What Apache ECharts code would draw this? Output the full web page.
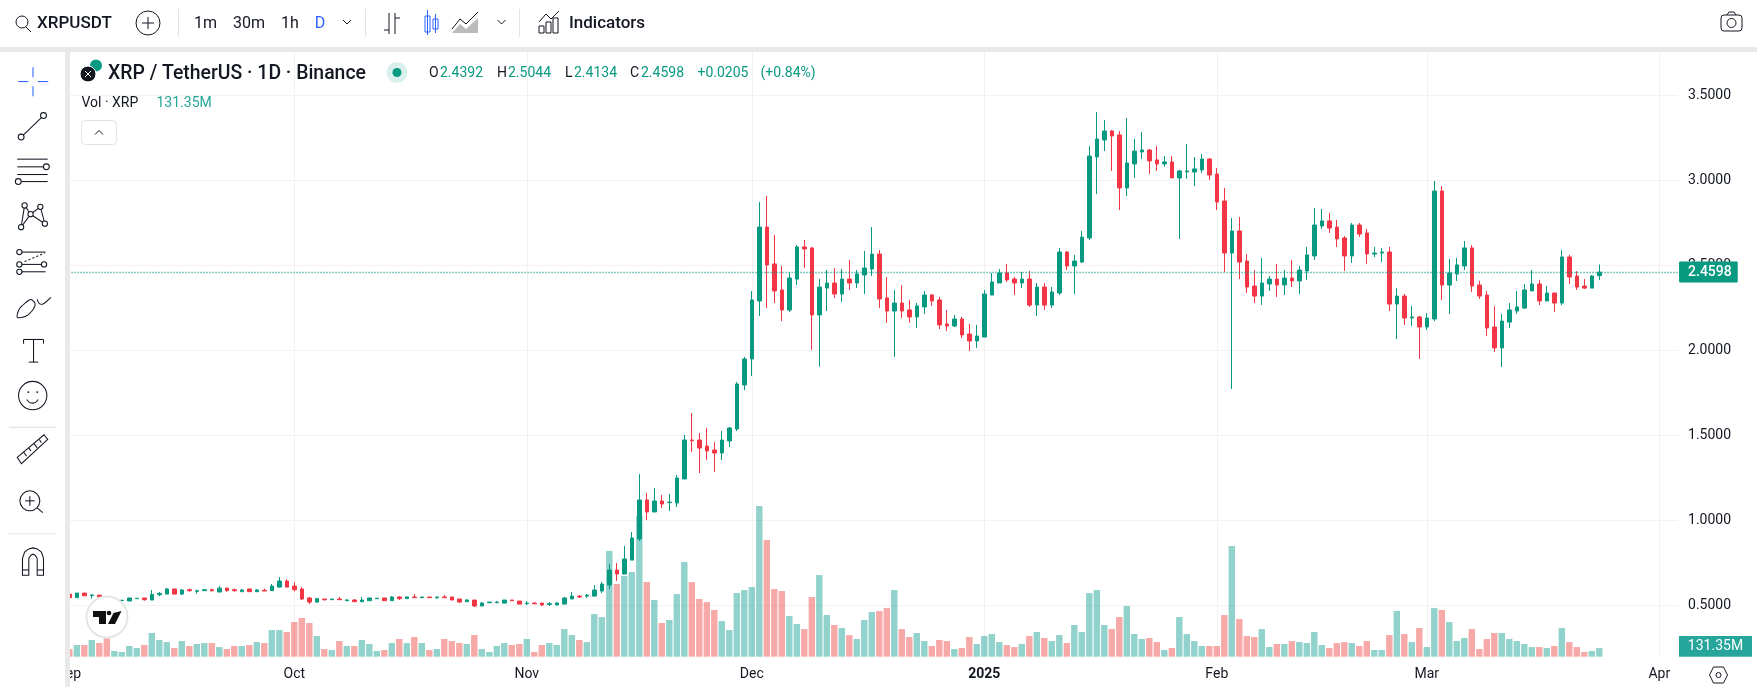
<!DOCTYPE html>
<html>
<head>
<meta charset="utf-8">
<title>XRPUSDT</title>
<style>
html, body { margin: 0; padding: 0; background: #fff; }
#main { width: 1757px; height: 687px; }
</style>
<script src="https://cdn.jsdelivr.net/npm/echarts@6/dist/echarts.min.js"></script>
</head>
<body>
<div id="main"></div>
<script>
// daily candles, 2024-09-01 .. 2025-03-24
var opens = [
  .566,.545,.572,.5565,.56,.549,.526,.528,.525,.539,
  .543,.531,.562,.566,.596,.566,.592,.582,.586,.592,
  .578,.601,.592,.58,.596,.58,.588,.586,.607,.643,
  .613,.596,.543,.519,.537,.533,.537,.527,.531,.521,
  .527,.539,.543,.527,.549,.539,.549,.545,.549,.545,
  .549,.549,.537,.521,.531,.496,.515,.515,.513,.531,
  .525,.509,.513,.513,.505,.502,.507,.537,.554,.554,
  .554,.584,.6194,.7076,.684,.766,.890,1.1194,1.049,1.1135,
  1.104,1.1018,1.243,1.4723,1.4723,1.437,1.4135,1.396,1.4665,1.537,
  1.796,1.949,2.290,2.725,2.508,2.355,2.237,2.419,2.608,2.602,
  2.208,2.366,2.396,2.331,2.419,2.396,2.443,2.478,2.566,2.308,
  2.231,2.278,2.237,2.196,2.255,2.325,2.296,2.155,2.143,2.184,
  2.096,2.055,2.078,2.325,2.396,2.455,2.419,2.396,2.419,2.266,
  2.372,2.266,2.337,2.578,2.496,2.519,2.661,3.137,3.237,3.290,
  3.267,2.955,3.096,3.167,3.178,3.120,3.096,3.108,3.014,3.049,
  3.049,3.061,3.125,3.037,2.878,2.572,2.702,2.525,2.378,2.319,
  2.390,2.419,2.384,2.425,2.408,2.467,2.555,2.731,2.761,2.725,
  2.661,2.555,2.737,2.690,2.566,2.572,2.578,2.272,2.319,2.190,
  2.196,2.137,2.184,2.937,2.384,2.449,2.496,2.602,2.384,2.325,
  2.137,2.014,2.166,2.231,2.249,2.349,2.390,2.290,2.337,2.278,
  2.549,2.437,2.378,2.366,2.4392
];
var closes = [
  .545,.572,.556,.5605,.549,.53,.53,.530,.543,.541,
  .533,.564,.570,.596,.566,.59,.586,.586,.592,.586,
  .601,.586,.586,.59,.58,.59,.584,.613,.643,.607,
  .592,.537,.519,.539,.533,.537,.533,.531,.521,.531,
  .543,.5415,.527,.549,.539,.549,.545,.549,.545,.549,
  .545,.531,.519,.531,.496,.513,.519,.519,.531,.527,
  .507,.513,.509,.502,.509,.513,.543,.554,.549,.56,
  .59,.625,.7076,.684,.7723,.896,1.1194,1.049,1.1135,1.096,
  1.107,1.249,1.4723,1.468,1.425,1.408,1.396,1.4723,1.543,1.8018,
  1.949,2.296,2.725,2.502,2.349,2.237,2.425,2.608,2.596,2.208,
  2.372,2.396,2.331,2.419,2.396,2.449,2.484,2.566,2.302,2.231,
  2.278,2.231,2.196,2.261,2.325,2.290,2.149,2.143,2.184,2.090,
  2.055,2.084,2.331,2.402,2.455,2.414,2.396,2.419,2.266,2.372,
  2.266,2.343,2.578,2.496,2.525,2.666,3.143,3.243,3.290,3.261,
  2.955,3.102,3.172,3.178,3.114,3.096,3.108,3.014,3.055,3.055,
  3.067,3.125,3.031,2.872,2.572,2.702,2.519,2.372,2.319,2.396,
  2.419,2.384,2.425,2.408,2.472,2.561,2.737,2.761,2.719,2.655,
  2.555,2.737,2.684,2.567,2.572,2.578,2.272,2.319,2.190,2.196,
  2.137,2.190,2.937,2.384,2.455,2.502,2.602,2.378,2.319,2.131,
  2.014,2.172,2.237,2.255,2.355,2.390,2.290,2.337,2.278,2.549,
  2.431,2.372,2.366,2.437,2.4598
];
var lows = [
  .545,.545,.556,.539,.549,.528,.524,.528,.525,.539,
  .527,.531,.554,.566,.566,.56,.58,.568,.586,.58,
  .578,.58,.58,.58,.58,.578,.584,.586,.607,.607,
  .582,.531,.507,.515,.527,.533,.533,.527,.519,.521,
  .527,.5385,.527,.527,.531,.539,.545,.545,.545,.539,
  .545,.531,.515,.521,.49,.496,.515,.515,.513,.527,
  .507,.502,.509,.496,.496,.502,.507,.537,.543,.543,
  .554,.572,.596,.643,.684,.766,.878,1.0018,1.049,1.072,
  1.055,1.078,1.243,1.402,1.278,1.355,1.284,1.355,1.431,1.525,
  1.766,1.849,2.202,2.249,2.278,2.172,2.225,2.384,2.484,2.002,
  1.904,2.231,2.308,2.284,2.355,2.366,2.331,2.437,2.249,2.161,
  1.961,2.190,2.161,2.131,2.213,2.261,2.125,2.113,2.137,2.072,
  1.996,2.013,2.078,2.325,2.396,2.402,2.325,2.367,2.255,2.202,
  2.237,2.249,2.325,2.472,2.331,2.514,2.649,2.919,3.172,3.055,
  2.825,2.908,3.014,3.125,3.037,3.055,3.078,3.014,2.655,3.008,
  2.967,3.043,3.002,2.825,2.461,1.772,2.419,2.337,2.278,2.267,
  2.349,2.314,2.325,2.372,2.331,2.414,2.531,2.714,2.690,2.608,
  2.467,2.514,2.667,2.508,2.549,2.519,2.231,2.066,2.149,2.143,
  1.949,2.119,2.172,2.296,2.213,2.408,2.472,2.343,2.302,2.084,
  1.990,1.902,2.131,2.214,2.243,2.349,2.266,2.290,2.225,2.266,
  2.390,2.355,2.360,2.366,2.4134
];
var highs = [
  .566,.572,.572,.566,.56,.549,.532,.530,.543,.541,
  .543,.59,.578,.602,.596,.596,.598,.592,.596,.598,
  .613,.605,.598,.596,.596,.596,.598,.625,.666,.653,
  .637,.607,.549,.543,.537,.537,.549,.537,.537,.549,
  .543,.5415,.543,.554,.554,.554,.566,.549,.549,.549,
  .56,.549,.537,.537,.531,.519,.519,.525,.531,.531,
  .525,.525,.519,.513,.519,.519,.549,.578,.56,.566,
  .619,.637,.743,.749,.849,.931,1.272,1.161,1.190,1.149,
  1.155,1.267,1.502,1.631,1.513,1.543,1.460,1.525,1.549,1.814,
  1.961,2.349,2.872,2.908,2.678,2.496,2.461,2.619,2.649,2.608,
  2.419,2.472,2.484,2.478,2.531,2.472,2.584,2.725,2.590,2.431,
  2.355,2.384,2.296,2.278,2.349,2.331,2.314,2.237,2.208,2.196,
  2.155,2.149,2.355,2.455,2.478,2.508,2.431,2.461,2.467,2.396,
  2.396,2.372,2.602,2.584,2.561,2.702,3.202,3.402,3.355,3.296,
  3.290,3.367,3.243,3.284,3.184,3.202,3.143,3.143,3.061,3.214,
  3.137,3.155,3.131,3.072,2.955,2.778,2.784,2.567,2.472,2.543,
  2.437,2.508,2.472,2.531,2.496,2.608,2.837,2.831,2.808,2.767,
  2.672,2.749,2.749,2.714,2.608,2.602,2.608,2.366,2.331,2.261,
  2.202,2.219,2.996,2.966,2.537,2.543,2.643,2.619,2.408,2.349,
  2.261,2.214,2.278,2.349,2.390,2.472,2.414,2.378,2.337,2.590,
  2.561,2.466,2.419,2.443,2.5044
];
// volume in millions of XRP
var volumes = [
  116,177,177,253,207,278,86,71,162,131,
  177,359,253,222,131,237,162,192,207,207,
  146,116,162,162,177,222,207,404,404,374,
  525,586,510,313,116,101,237,162,162,253,
  192,86,101,207,268,207,298,207,101,116,
  268,237,207,192,328,116,71,162,207,177,
  192,268,71,177,207,177,419,328,253,222,
  646,601,1601,1101,1222,1283,2131,1131,859,510,
  556,949,1434,1131,874,828,707,540,404,965,
  1010,1055,2283,1768,1025,995,616,495,419,904,
  1237,631,480,434,328,268,556,677,692,737,
  1010,419,298,359,237,162,253,237,116,131,
  298,192,313,343,222,177,146,192,313,374,
  283,237,328,207,480,374,965,1010,480,419,
  601,768,343,268,283,222,101,131,601,343,
  237,162,162,162,631,1677,571,313,298,419,
  146,192,192,237,222,207,374,177,131,207,
  222,207,162,237,101,101,328,692,343,222,
  434,146,737,707,525,237,283,419,116,268,
  359,359,268,237,192,146,146,131,162,434,
  222,146,71,86,131.35
];
var monthLabels = {
  '2024-09-01': 'Sep', '2024-10-01': 'Oct', '2024-11-01': 'Nov', '2024-12-01': 'Dec',
  '2025-01-01': '{b|2025}', '2025-02-01': 'Feb', '2025-03-01': 'Mar', '2025-04-01': 'Apr'
};
var priceTicks = [0.5, 1, 1.5, 2, 2.5, 3, 3.5];
var lastClose = 2.4598;
var lastVolume = '131.35M';

if (opens.length != 205 || closes.length != 205 || lows.length != 205 || highs.length != 205 || volumes.length != 205) {
  throw new Error('lengths ' + [opens.length, closes.length, lows.length, highs.length, volumes.length]);
}

// one category per day, the last ones stay empty (right margin of the chart)
var days = [];
for (var i = 0; i < 215; i++) {
  days.push(new Date(Date.UTC(2024, 8, 1 + i)).toISOString().slice(0, 10));
}

var UP = '#089981', DOWN = '#f23645', VOL_UP = 'rgba(38,166,154,0.5)', VOL_DOWN = 'rgba(239,83,80,0.5)';
var INK = '#131722', FONT = 'Roboto, sans-serif';

var candles = [], volumeBars = [];
for (var i = 0; i < opens.length; i++) {
  candles.push([opens[i], closes[i], lows[i], highs[i]]);
  volumeBars.push({ value: volumes[i], itemStyle: { color: closes[i] >= opens[i] ? VOL_UP : VOL_DOWN } });
}

function isMonthStart(index, value) {
  return !!monthLabels[value];
}

// little helpers for the toolbars around the plot
var Z = 100;
function rect(x, y, w, h, fill, r, stroke) {
  return { type: 'rect', z: Z, silent: true, shape: { x: x, y: y, width: w, height: h, r: r || 0 }, style: { fill: fill, stroke: stroke || null } };
}
function line(x1, y1, x2, y2, color, width, dash) {
  return { type: 'line', z: Z + 1, silent: true, shape: { x1: x1, y1: y1, x2: x2, y2: y2 }, style: { stroke: color || INK, lineWidth: width || 1, lineDash: dash || null } };
}
function dot(x, y, r, fill, stroke, width) {
  return { type: 'circle', z: Z + 1, silent: true, shape: { cx: x, cy: y, r: r }, style: { fill: fill || '#fff', stroke: stroke === undefined ? INK : stroke, lineWidth: width || 1 } };
}
function poly(points, fill, stroke, closed, smooth) {
  return { type: closed === false ? 'polyline' : 'polygon', z: Z + 1, silent: true, shape: { points: points, smooth: smooth || 0 }, style: { fill: fill || null, stroke: stroke || null, lineWidth: 1 } };
}
function text(x, y, str, size, color, weight, align) {
  return { type: 'text', z: Z + 2, silent: true, x: x, y: y, style: { text: str, fontSize: size, fontFamily: FONT, fontWeight: weight || 'normal', fill: color || INK, align: align || 'left', verticalAlign: 'middle' } };
}

function chevron(x, y) {
  return poly([[x - 4, y - 2], [x, y + 2], [x + 4, y - 2]], null, INK, false);
}

var leftTools = [
  // crosshair
  line(19, 80, 28.5, 80, '#2962ff'), line(37.5, 80, 47.5, 80, '#2962ff'),
  line(33, 66.5, 33, 76, '#2962ff'), line(33, 84.5, 33, 94, '#2962ff'),
  // trend line
  line(21.7, 132.7, 43, 112.3), dot(21.7, 132.7, 2.8), dot(43, 112.3, 2.8),
  // parallel lines
  line(18, 153.7, 47, 153.7), line(18, 161, 47, 161), line(18, 168.3, 47, 168.3), line(18, 175, 47, 175),
  dot(45.7, 161, 2.8), dot(19, 175, 2.8),
  // pattern
  poly([[21.7, 218.3], [25, 197.7], [30.7, 206], [40, 199], [44.3, 215], [30.7, 206], [21.7, 218.3]], null, INK, false),
  dot(21.7, 218.3, 2.5), dot(25, 197.7, 2.5), dot(30.7, 206, 2.5), dot(40, 199, 2.5), dot(44.3, 215, 2.5),
  // forecast
  line(20, 242, 45, 242), line(20, 253.7, 45, 253.7), line(20, 260.7, 45, 260.7),
  line(25, 251, 44, 243, INK, 1, [2, 2]),
  dot(20, 242, 2.5), dot(20, 253.7, 2.5), dot(43.5, 253.7, 2.5), dot(20, 260.7, 2.5),
  // brush
  poly([[18, 304], [20, 296], [26, 290], [31, 287], [35, 291], [32, 298], [26, 303]], null, INK, true, 0.3),
  poly([[37, 287], [39, 291], [43, 291], [50, 285]], null, INK, false, 0.3),
  // text tool
  line(24, 325, 43, 325), line(33.5, 325, 33.5, 346.5), line(29, 346.5, 38, 346.5),
  line(24, 325, 24, 329), line(43, 325, 43, 329),
  // smile
  dot(32.7, 378.3, 13.5, 'rgba(0,0,0,0)'), dot(28.5, 375, 0.9, INK, null), dot(37, 375, 0.9, INK, null),
  poly([[27, 382], [30, 385], [35, 385], [38, 382]], null, INK, false, 0.3),
  line(10, 408.5, 55, 408.5, '#e0e3eb'),
  // ruler
  poly([[18, 437], [43.5, 415.5], [47, 420], [22, 443]], null, INK),
  line(24, 432, 27, 436), line(29, 428, 31, 431), line(34, 424, 37, 428), line(39, 420, 41, 423),
  // zoom
  dot(30, 478.3, 9.5, 'rgba(0,0,0,0)'), line(25.5, 478.3, 34.5, 478.3), line(30, 474, 30, 483), line(37, 485, 42.3, 489.5),
  line(10, 509.5, 55, 509.5, '#e0e3eb'),
  // magnet
  poly([[23, 549], [23, 533], [25, 527], [29, 524], [33, 523], [37, 524], [41, 527], [43, 533], [43, 549], [37, 549], [37, 533], [35, 530], [33, 529], [31, 530], [29, 533], [29, 549]], null, INK),
  line(23, 544, 29, 544), line(37, 544, 43, 544)
];

var graphics = [
  // frame
  rect(0, 0, 1757, 47, '#fff'),
  rect(0, 47, 1757, 5, '#e9e9e9'),
  rect(0, 52, 65, 635, '#fff'),
  rect(65, 52, 5, 635, '#e9e9e9'),

  // top toolbar
  dot(22, 22, 6, 'rgba(0,0,0,0)'),
  line(26, 27, 31, 32),
  text(37, 23.5, 'XRPUSDT', 17, INK, 500),
  dot(148, 23, 12, 'rgba(0,0,0,0)'),
  line(142, 23, 154, 23), line(148, 17, 148, 29),
  line(178.5, 9, 178.5, 37, '#e0e3eb'),
  text(205.5, 23.5, '1m', 16, INK, 'normal', 'center'),
  text(249, 23.5, '30m', 16, INK, 'normal', 'center'),
  text(290, 23.5, '1h', 16, INK, 'normal', 'center'),
  text(320, 23.5, 'D', 16, '#2962ff', 'normal', 'center'),
  chevron(347, 22),
  line(365.5, 9, 365.5, 37, '#e0e3eb'),
  line(389, 13, 389, 34), line(395, 13, 395, 34), line(384, 30, 389, 30), line(395, 18, 400, 18),
  rect(425, 16, 5, 16, '#fff', 0, '#2962ff'), line(427.5, 10, 427.5, 35, '#2962ff'),
  rect(433, 19, 5, 10, '#fff', 0, '#2962ff'), line(435.5, 14, 435.5, 33, '#2962ff'),
  poly([[452, 29], [460, 19], [466, 24], [478, 12]], null, INK, false),
  poly([[452, 33], [460, 24], [466, 29], [478, 18], [478, 33]], '#bbb', null),
  chevron(501.5, 22),
  line(519.5, 9, 519.5, 37, '#e0e3eb'),
  poly([[539, 22], [546, 14], [551, 19], [559, 11]], null, INK, false),
  rect(539, 26, 5, 7, '#fff', 0, INK), rect(546, 22, 5, 11, '#fff', 0, INK), rect(553, 18, 5, 15, '#fff', 0, INK),
  text(569, 23.5, 'Indicators', 17, INK, 500),
  rect(1721, 15, 21, 16, '#fff', 3, INK), dot(1731.5, 23, 4.5),
  line(1727, 15, 1729, 12), line(1729, 12, 1734, 12), line(1734, 12, 1736, 15),

  // legend
  dot(96, 65.5, 6, UP, null),
  dot(88, 74, 8, INK, '#fff'),
  line(85, 71, 91, 77, '#fff'), line(91, 71, 85, 77, '#fff'),
  text(108, 74, 'XRP / TetherUS · 1D · Binance', 19.4, INK, 500),
  dot(397, 72.5, 10.5, 'rgba(8,153,129,0.15)', null),
  dot(397, 72.5, 4.5, UP, null),
  text(429, 73, 'O', 14), text(440, 73, '2.4392', 14, UP),
  text(497, 73, 'H', 14), text(508, 73, '2.5044', 14, UP),
  text(565, 73, 'L', 14), text(574, 73, '2.4134', 14, UP),
  text(630, 73, 'C', 14), text(641, 73, '2.4598', 14, UP),
  text(697.5, 73, '+0.0205', 14, UP),
  text(760.5, 73, '(+0.84%)', 14, UP),
  text(81.5, 103, 'Vol · XRP', 14),
  text(156.5, 103, lastVolume, 14, '#26a69a'),
  rect(81.5, 120.5, 35, 24, '#fff', 4, '#e0e3eb'),
  poly([[95, 134.5], [99, 130.5], [103, 134.5]], null, INK, false),

  // left toolbar, stretched a little to sit on the reference rows
  { type: 'group', z: Z, silent: true, originX: 33, originY: 50, scaleX: 1.05, scaleY: 1.0526, children: leftTools },

  // chart logo
  dot(107, 617, 20.5, '#fff', '#e6e6e6', 2),
  poly([[93, 611], [106, 611], [106, 624], [99, 624], [99, 617], [93, 617]], '#111'),
  dot(109, 613, 2.3, '#111', null),
  poly([[121.5, 611], [115, 624], [108, 624], [113.5, 613]], '#111'),

  // volume tag and scale settings
  rect(1679, 636, 73, 20.7, '#26a69a'),
  text(1715.5, 646.5, lastVolume, 14, '#fff', 'normal', 'center'),
  poly([[1713.5, 667], [1723.5, 667], [1727.5, 675], [1723.5, 683], [1713.5, 683], [1709.5, 675]], null, INK),
  dot(1718.5, 675, 2.5, 'rgba(0,0,0,0)')
];

var chart = echarts.init(document.getElementById('main'));
var option = {};
option['animation'] = false;
option['backgroundColor'] = '#fff';
option['textStyle'] = { fontFamily: FONT };
option['grid'] = { left: 65.55, top: 52, width: 1612.5, height: 604.7, containLabel: false };
option['xAxis'] = {
  type: 'category',
  data: days,
  boundaryGap: true,
  axisLine: { show: false },
  axisTick: { show: false, alignWithLabel: true },
  splitLine: { show: true, alignWithLabel: true, interval: isMonthStart, lineStyle: { color: '#f2f2f2', width: 1 } },
  axisLabel: {
    interval: isMonthStart,
    margin: 11,
    fontSize: 14,
    color: INK,
    fontFamily: FONT,
    formatter: function (value) { return monthLabels[value] || ''; },
    rich: { b: { fontWeight: 'bold', fontSize: 14, color: INK, fontFamily: FONT } }
  }
};
option['yAxis'] = [
  {
    type: 'value',
    position: 'right',
    min: 0.19765,
    max: 3.7547,
    axisLine: { show: false },
    axisTick: { show: false, customValues: priceTicks },
    splitLine: { show: true, lineStyle: { color: '#f2f2f2', width: 1 } },
    axisLabel: {
      customValues: priceTicks,
      margin: 10,
      fontSize: 14,
      color: INK,
      fontFamily: FONT,
      padding: [2, 0, 0, 0],
      formatter: function (value) { return value.toFixed(4); }
    }
  },
  {
    type: 'value',
    min: 0,
    max: 9161,
    show: false,
    splitLine: { show: false }
  }
];
option['series'] = [
  {
    name: 'Vol',
    type: 'bar',
    yAxisIndex: 1,
    barWidth: 6.4,
    data: volumeBars,
    z: 1
  },
  {
    name: 'XRPUSDT',
    type: 'candlestick',
    yAxisIndex: 0,
    barWidth: 4,
    data: candles,
    z: 2,
    itemStyle: { color: UP, color0: DOWN, borderColor: UP, borderColor0: DOWN, borderWidth: 1 },
    markLine: {
      silent: true,
      symbol: 'none',
      animation: false,
      lineStyle: { color: UP, type: [1, 2], width: 1.4 },
      label: {
        show: true,
        position: 'end',
        distance: 1,
        formatter: lastClose.toFixed(4),
        color: '#fff',
        fontSize: 14,
        fontWeight: 500,
        fontFamily: FONT,
        backgroundColor: UP,
        borderRadius: 1,
        padding: [4, 6, 2, 9],
        lineHeight: 15
      },
      data: [{ yAxis: lastClose }]
    }
  }
];
option['graphic'] = { elements: graphics };
chart.setOption(option);
</script>
</body>
</html>
